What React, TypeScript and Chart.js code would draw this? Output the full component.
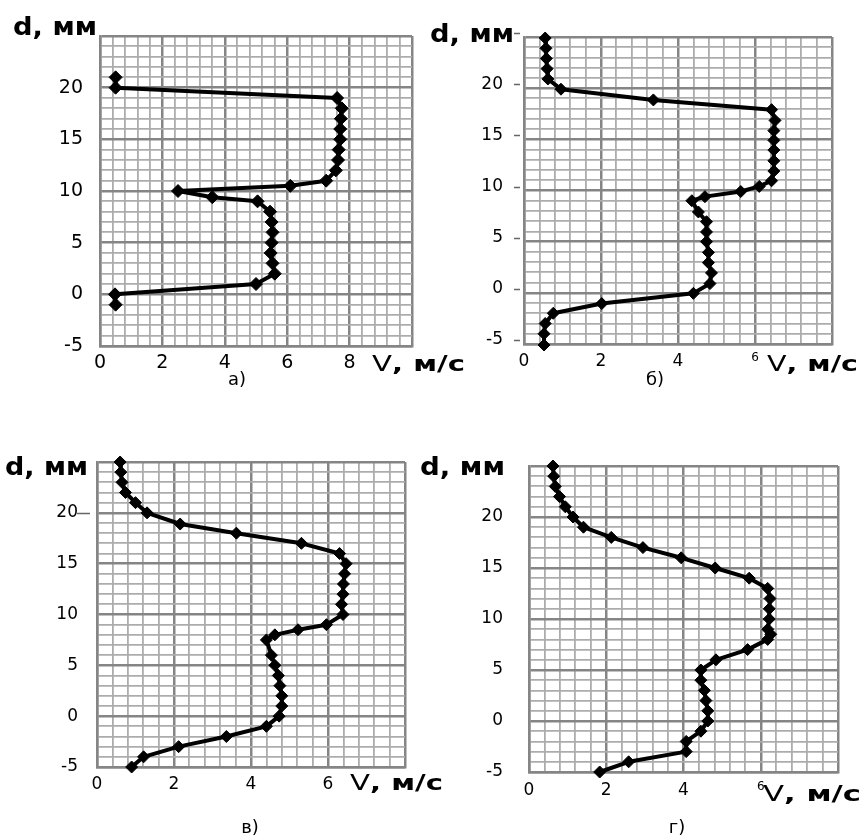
import { useEffect, useRef } from 'react';
import { Chart, registerables } from 'chart.js';

Chart.register(...registerables);

// ---- data (V in м/с, d in мм) ----
const panelAVelocity = [0.5, 0.5, 7.6, 7.75, 7.72, 7.7, 7.7, 7.65, 7.63, 7.56, 7.25, 6.1, 2.5, 3.6, 5.05, 5.45, 5.5, 5.53, 5.5, 5.47, 5.53, 5.6, 5.0, 0.48, 0.5];
const panelADepth = [21, 20, 19, 18, 17, 16, 15, 14, 13, 12, 11, 10.5, 10, 9.4, 9, 8, 7, 6, 5, 4, 3, 2, 1, 0, -1];

const panelBVelocity = [0.55, 0.57, 0.58, 0.6, 0.62, 0.96, 3.36, 6.43, 6.52, 6.49, 6.49, 6.49, 6.49, 6.49, 6.43, 6.11, 5.63, 4.7, 4.36, 4.53, 4.74, 4.74, 4.74, 4.79, 4.79, 4.87, 4.83, 4.4, 2.02, 0.76, 0.55, 0.52, 0.52];
const panelBDepth = [24.9, 23.9, 22.9, 21.9, 20.9, 19.9, 18.85, 17.9, 16.85, 15.85, 14.9, 13.95, 12.9, 11.9, 10.95, 10.4, 9.9, 9.4, 9.0, 7.9, 6.95, 5.95, 5.0, 3.95, 2.95, 1.95, 0.9, -0.05, -1.05, -2.0, -3.0, -4.0, -5.1];

const panelCVelocity = [0.6, 0.62, 0.65, 0.74, 1.0, 1.3, 2.16, 3.62, 5.31, 6.3, 6.47, 6.43, 6.4, 6.39, 6.35, 6.39, 5.96, 5.22, 4.62, 4.4, 4.53, 4.62, 4.71, 4.75, 4.8, 4.8, 4.73, 4.4, 3.36, 2.12, 1.21, 0.9];
const panelCDepth = [25, 24, 23, 22, 21, 20, 18.9, 18, 17, 16, 15, 14, 13, 12, 11, 10, 9, 8.5, 8, 7.5, 6, 5, 4, 3, 2, 1, 0, -1, -2, -3, -4, -5];

const panelDVelocity = [0.62, 0.64, 0.68, 0.79, 0.94, 1.14, 1.41, 2.13, 2.95, 3.94, 4.82, 5.7, 6.18, 6.24, 6.22, 6.22, 6.18, 6.26, 6.18, 5.66, 4.84, 4.45, 4.45, 4.54, 4.58, 4.63, 4.63, 4.45, 4.07, 4.07, 2.58, 1.83];
const panelDDepth = [25, 24, 23, 22, 21, 20, 19, 18, 17, 16, 15, 14, 13, 12, 11, 10, 9, 8.5, 8, 7, 6, 5, 4, 3, 2, 1, 0, -1, -2, -3, -4, -5];

const yAxisTitle = 'd, мм';
const xAxisTitleV = 'V';
const xAxisTitleRest = ', м/с';
const captions = ['а)', 'б)', 'в)', 'г)'];
const yMin = -5;
const yMax = 25;
const xMinorStep = 0.4;
const xMajorStep = 2;
const yMinorStep = 1;
const yMajorStep = 5;

const FONT = '"DejaVu Sans", Verdana, sans-serif';
const isMult = (v: number, s: number) => Math.abs(v / s - Math.round(v / s)) < 1e-6;

interface PanelCfg {
  left: number; top: number; w: number; h: number;
  area: { l: number; r: number; t: number; b: number };
  xMax: number; xLabelMax: number;
  V: number[]; D: number[];
  tickSize: number; yPad: number; xPad: number; yLabelOffset: number;
  smallSix: boolean;
  dTitle: { x: number; y: number; w: number };
  vTitle: { x: number; y: number; w: number };
  caption: { text: string; x: number; y: number };
  tickMarks: { values: number[]; x1: number; x2: number; dy: number } | null;
  pointRadius: number;
}

const panels: PanelCfg[] = [
  {
    left: 0, top: 0, w: 470, h: 400,
    area: { l: 100, r: 412, t: 36, b: 346 },
    xMax: 10, xLabelMax: 8, V: panelAVelocity, D: panelADepth,
    tickSize: 19, yPad: 17, xPad: 6, yLabelOffset: 0, smallSix: false,
    dTitle: { x: 13, y: 35, w: 84 },
    vTitle: { x: 372, y: 371, w: 93 },
    caption: { text: captions[0], x: 237, y: 385 },
    tickMarks: null, pointRadius: 6.5,
  },
  {
    left: 430, top: 0, w: 434, h: 400,
    area: { l: 94, r: 402, t: 37, b: 344 },
    xMax: 8, xLabelMax: 6, V: panelBVelocity, D: panelBDepth,
    tickSize: 17, yPad: 21, xPad: 7, yLabelOffset: -4, smallSix: true,
    dTitle: { x: 430, y: 42, w: 84 },
    vTitle: { x: 767, y: 371, w: 91 },
    caption: { text: captions[1], x: 655, y: 385 },
    tickMarks: { values: [-5, 0, 5, 10, 15, 20, 25], x1: 514, x2: 520, dy: -4 }, pointRadius: 6,
  },
  {
    left: 0, top: 420, w: 450, h: 418,
    area: { l: 97, r: 405, t: 42, b: 347 },
    xMax: 8, xLabelMax: 6, V: panelCVelocity, D: panelCDepth,
    tickSize: 17, yPad: 19, xPad: 7, yLabelOffset: 0, smallSix: false,
    dTitle: { x: 5, y: 475, w: 83 },
    vTitle: { x: 350, y: 790, w: 93 },
    caption: { text: captions[2], x: 250, y: 833 },
    tickMarks: { values: [20], x1: 77, x2: 90, dy: 0 }, pointRadius: 6,
  },
  {
    left: 420, top: 420, w: 444, h: 418,
    area: { l: 109, r: 418, t: 46, b: 352 },
    xMax: 8, xLabelMax: 6, V: panelDVelocity, D: panelDDepth,
    tickSize: 17, yPad: 26, xPad: 8, yLabelOffset: 0, smallSix: true,
    dTitle: { x: 420, y: 475, w: 85 },
    vTitle: { x: 763, y: 801, w: 98 },
    caption: { text: captions[3], x: 677, y: 833 },
    tickMarks: null, pointRadius: 6,
  },
];

function drawSegments(ctx: CanvasRenderingContext2D, segs: { t: string; font: string }[], x: number, y: number, width: number) {
  ctx.save();
  ctx.fillStyle = '#000';
  ctx.textBaseline = 'alphabetic';
  ctx.textAlign = 'left';
  const widths = segs.map((s) => { ctx.font = s.font; return ctx.measureText(s.t).width; });
  const total = widths.reduce((a, b) => a + b, 0);
  const sx = width / total;
  ctx.translate(x, y);
  ctx.scale(sx, 1);
  let cx = 0;
  segs.forEach((s, i) => { ctx.font = s.font; ctx.fillText(s.t, cx, 0); cx += widths[i]; });
  ctx.restore();
}

const MAJOR = '#858585';
const MINOR = '#acacac';

function Panel({ cfg }: { cfg: PanelCfg }) {
  const ref = useRef<HTMLCanvasElement>(null);
  useEffect(() => {
    if (!ref.current) return;
    const { area } = cfg;
    const textPlugin = {
      id: 'panelText',
      afterDraw(chart: any) {
        const ctx: CanvasRenderingContext2D = chart.ctx;
        const L = cfg.left, T = cfg.top;
        drawSegments(ctx, [{ t: yAxisTitle, font: `bold 24px ${FONT}` }], cfg.dTitle.x - L, cfg.dTitle.y - T, cfg.dTitle.w);
        drawSegments(ctx, [
          { t: xAxisTitleV, font: `22px ${FONT}` },
          { t: xAxisTitleRest, font: `bold 22px ${FONT}` },
        ], cfg.vTitle.x - L, cfg.vTitle.y - T, cfg.vTitle.w);
        ctx.save();
        ctx.font = `18px ${FONT}`;
        ctx.fillStyle = '#000';
        ctx.textAlign = 'center';
        ctx.textBaseline = 'alphabetic';
        ctx.fillText(cfg.caption.text, cfg.caption.x - L, cfg.caption.y - T);
        ctx.restore();
        if (cfg.tickMarks) {
          const ys = chart.scales.y;
          ctx.save();
          ctx.strokeStyle = '#666';
          ctx.lineWidth = 1.5;
          cfg.tickMarks.values.forEach((v) => {
            const py = Math.round(ys.getPixelForValue(v) + cfg.tickMarks!.dy) + 0.5;
            ctx.beginPath();
            ctx.moveTo(cfg.tickMarks!.x1 - L, py);
            ctx.lineTo(cfg.tickMarks!.x2 - L, py);
            ctx.stroke();
          });
          ctx.restore();
        }
      },
    };
    const chart = new Chart(ref.current, {
      type: 'scatter',
      data: {
        datasets: [{
          data: cfg.V.map((v, i) => ({ x: v, y: cfg.D[i] })),
          showLine: true,
          borderColor: '#000',
          backgroundColor: '#000',
          borderWidth: 4,
          borderJoinStyle: 'round',
          borderCapStyle: 'round',
          pointStyle: 'rectRot',
          pointRadius: cfg.pointRadius,
          pointBorderWidth: 1,
          pointBackgroundColor: '#000',
          pointBorderColor: '#000',
          tension: 0,
          clip: false as any,
        }],
      },
      options: {
        animation: false,
        responsive: false,
        maintainAspectRatio: false,
        devicePixelRatio: 1,
        layout: { padding: { left: 0, top: area.t, right: cfg.w - area.r, bottom: 0 } },
        plugins: { legend: { display: false }, tooltip: { enabled: false } },
        scales: {
          x: {
            type: 'linear',
            min: 0,
            max: cfg.xMax,
            afterFit: (s: any) => { s.height = cfg.h - area.b; },
            grid: {
              drawTicks: false,
              color: (c: any) => (isMult(c.tick.value, xMajorStep) ? MAJOR : MINOR),
              lineWidth: (c: any) => (isMult(c.tick.value, xMajorStep) ? 2.5 : 1.8),
            },
            border: { display: true, color: MAJOR, width: 2.5 },
            ticks: {
              stepSize: xMinorStep,
              autoSkip: false,
              maxRotation: 0,
              minRotation: 0,
              padding: cfg.xPad,
              color: '#000',
              font: (c: any) => ({
                family: FONT,
                size: cfg.smallSix && c.tick && Math.abs(c.tick.value - 6) < 1e-6 ? 12 : cfg.tickSize,
              }),
              callback: (v: any) => {
                const n = Number(v);
                return isMult(n, xMajorStep) && n <= cfg.xLabelMax + 1e-6 ? String(Math.round(n)) : '';
              },
            },
          },
          y: {
            type: 'linear',
            min: yMin,
            max: yMax,
            afterFit: (s: any) => { s.width = area.l; },
            grid: {
              drawTicks: false,
              color: (c: any) => (isMult(c.tick.value, yMajorStep) ? MAJOR : MINOR),
              lineWidth: (c: any) => (isMult(c.tick.value, yMajorStep) ? 2.5 : 1.8),
            },
            border: { display: true, color: MAJOR, width: 2.5 },
            ticks: {
              stepSize: yMinorStep,
              autoSkip: false,
              padding: cfg.yPad,
              labelOffset: cfg.yLabelOffset,
              color: '#000',
              font: { family: FONT, size: cfg.tickSize },
              callback: (v: any) => {
                const n = Number(v);
                return isMult(n, yMajorStep) && n < yMax - 1e-6 ? String(Math.round(n)) : '';
              },
            },
          },
        },
      } as any,
      plugins: [textPlugin],
    });
    return () => chart.destroy();
  }, [cfg]);
  return (
    <canvas
      ref={ref}
      width={cfg.w}
      height={cfg.h}
      style={{ position: 'absolute', left: cfg.left, top: cfg.top, width: cfg.w, height: cfg.h }}
    />
  );
}

export default function App() {
  return (
    <div style={{ position: 'absolute', left: 0, top: 0, width: 864, height: 838, background: '#fff', overflow: 'hidden' }}>
      {panels.map((p, i) => (
        <Panel key={i} cfg={p} />
      ))}
    </div>
  );
}
